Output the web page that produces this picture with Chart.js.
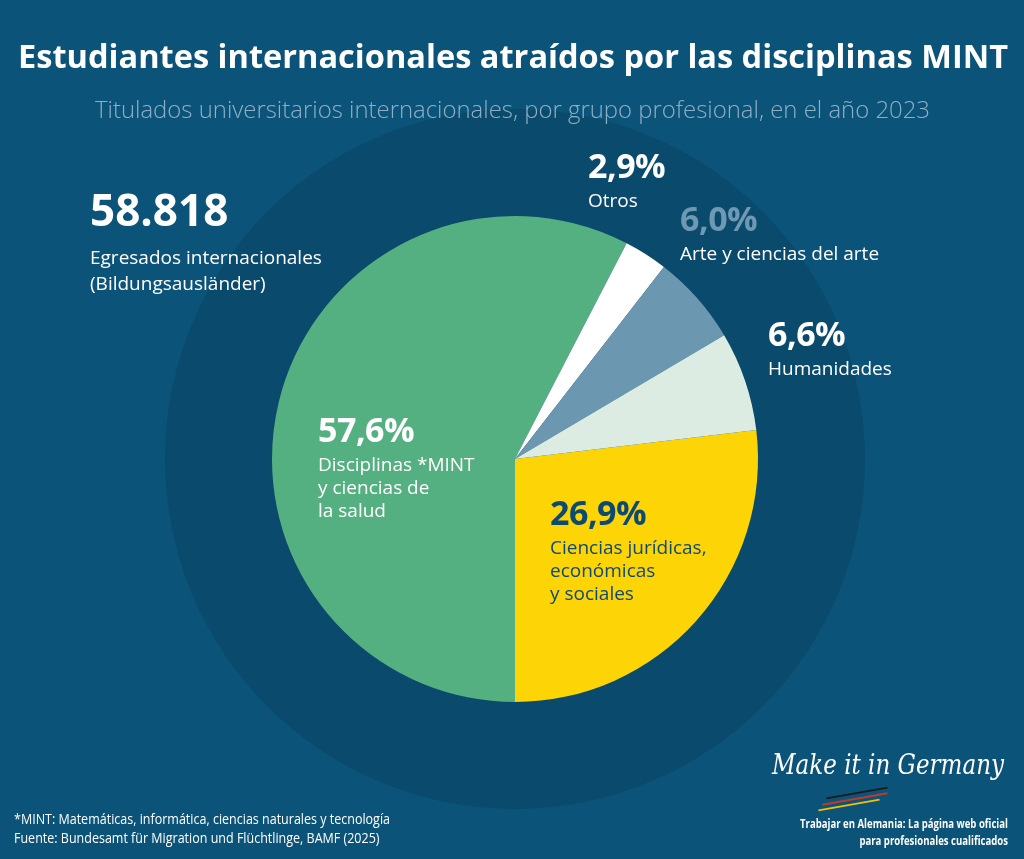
<!DOCTYPE html>
<html>
<head>
<meta charset="utf-8">
<script src="https://cdn.jsdelivr.net/npm/chart.js@4"></script>
<style>
  html, body { margin: 0; padding: 0; }
  body { width: 1024px; height: 859px; background: #0c5379; position: relative; overflow: hidden; font-family: "Open Sans", "Noto Sans", sans-serif; color: #fff; }
  #chart { position: absolute; left: 0; top: 0; z-index: 0; }
  .fit { position: absolute; white-space: nowrap; transform-origin: 0 0; z-index: 1; }
  #title { top: 33px; left: 18px; font-size: 33px; font-weight: 700; }
  #subtitle { top: 92px; left: 95px; font-size: 24px; font-weight: 300; color: #8db0c6; }
  .lbl { position: absolute; white-space: nowrap; z-index: 1; }
  .lbl .pct { font-size: 34px; font-weight: 700; line-height: 40px; letter-spacing: -0.5px; }
  .lbl .txt { font-size: 19px; line-height: 23px; margin-top: 4px; }
  #total { position: absolute; left: 90px; top: 182px; z-index: 1; }
  #total .num { font-size: 44px; font-weight: 700; line-height: 54px; }
  #total .txt { font-size: 19px; line-height: 26px; margin-top: 8px; }
  #notes { left: 14px; top: 809px; font-size: 14px; line-height: 19px; }
  #brand { left: 800px; top: 815px; font-size: 12.5px; font-weight: 700; line-height: 17px; text-align: right; }
  #sig { left: 772px; top: 748px; font-family: "DejaVu Serif", serif; font-style: italic; font-size: 28px; }
  .stripe { position: absolute; height: 2px; transform: rotate(-10deg); z-index: 1; }
</style>
</head>
<body>
<canvas id="chart" width="1024" height="859"></canvas>
<div id="title" class="fit" data-w="990">Estudiantes internacionales atraídos por las disciplinas MINT</div>
<div id="subtitle" class="fit" data-w="835">Titulados universitarios internacionales, por grupo profesional, en el año 2023</div>
<div id="total"><div class="num"></div><div class="txt">Egresados internacionales<br>(Bildungsausländer)</div></div>
<div id="labels"></div>
<div id="notes" class="fit" data-w="376">*MINT: Matemáticas, informática, ciencias naturales y tecnología<br>Fuente: Bundesamt für Migration und Flüchtlinge, BAMF (2025)</div>
<div id="sig" class="fit" data-w="232">Make it in Germany</div>
<div class="stripe" style="left:826px;top:792px;width:62px;background:#1a1a1a;"></div>
<div class="stripe" style="left:822px;top:798px;width:66px;background:#c0392b;"></div>
<div class="stripe" style="left:818px;top:804px;width:62px;background:#f2c200;"></div>
<div id="brand" class="fit" data-w="208">Trabajar en Alemania: La página web oficial<br>para profesionales cualificados</div>
<script>
// data, clockwise from the right-hand side
var groups = ["Ciencias jurídicas,\neconómicas\ny sociales", "Disciplinas *MINT\ny ciencias de\nla salud", "Otros", "Arte y ciencias del arte", "Humanidades"];
var shares = [26.9, 57.6, 2.9, 6.0, 6.6];
var colors = ["#fdd406", "#55b081", "#ffffff", "#6b97b1", "#dcece2"];
var pctColors = ["#0d4a72", "#ffffff", "#ffffff", "#6f98b3", "#ffffff"];
var graduates = 58818;

// where the labels sit (px)
var labelPos = [[550, 492], [318, 409], [588, 145], [680, 198], [768, 313]];

function fmtPct(v) { return v.toFixed(1).replace(".", ",") + "%"; }

document.querySelector("#total .num").textContent = graduates.toLocaleString("de-DE");

var box = document.getElementById("labels");
for (var i = 0; i < groups.length; i++) {
  var d = document.createElement("div");
  d.className = "lbl";
  d.style.left = labelPos[i][0] + "px";
  d.style.top = labelPos[i][1] + "px";
  var p = document.createElement("div");
  p.className = "pct";
  p.style.color = pctColors[i];
  p.textContent = fmtPct(shares[i]);
  var t = document.createElement("div");
  t.className = "txt";
  t.style.color = i == 0 ? "#0d4a72" : "#fff";
  t.innerHTML = groups[i].split("\n").join("<br>");
  d.appendChild(p); d.appendChild(t);
  box.appendChild(d);
}

// squeeze wide text to the reference width
document.querySelectorAll(".fit").forEach(function (el) {
  var w = el.getBoundingClientRect().width;
  el.style.transform = "scaleX(" + (el.dataset.w / w) + ")";
});

var ringBg = {
  id: "ringBg",
  beforeDatasetsDraw: function (chart) {
    var a = chart.chartArea, ctx = chart.ctx;
    var cx = (a.left + a.right) / 2, cy = (a.top + a.bottom) / 2;
    ctx.save();
    ctx.fillStyle = "#0a4a6c";
    ctx.beginPath();
    ctx.arc(cx, cy, 350, 0, Math.PI * 2);
    ctx.fill();
    ctx.restore();
  }
};

var startAngle = 180 - shares[0] * 3.6;

var chart = new Chart(document.getElementById("chart"), {
  type: "pie",
  data: {
    labels: groups,
    datasets: [{
      data: shares,
      backgroundColor: colors,
      borderWidth: 0
    }]
  },
  options: {
    responsive: false,
    animation: false,
    rotation: startAngle,
    layout: { padding: { left: 100, right: 94, top: 216, bottom: 157 } },
    plugins: { legend: { display: false }, tooltip: { enabled: false } }
  },
  plugins: [ringBg]
});
</script>
</body>
</html>
